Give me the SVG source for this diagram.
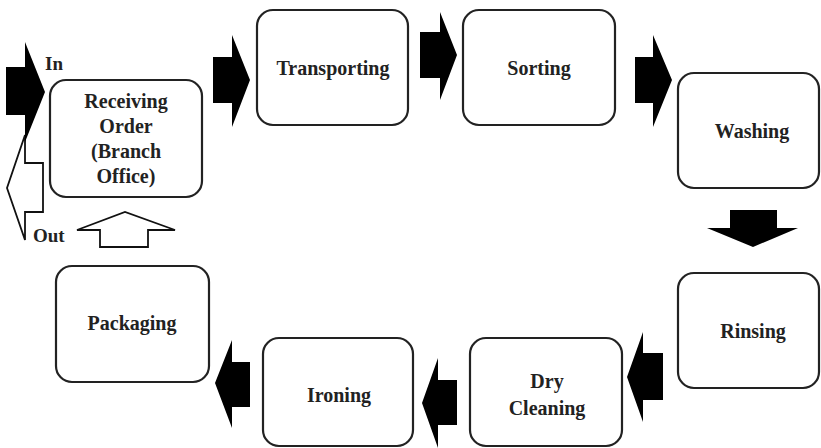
<svg xmlns="http://www.w3.org/2000/svg" width="821" height="448" viewBox="0 0 821 448">
<style>
.box{fill:#fff;stroke:#222;stroke-width:2.2}
.lbl{font-family:"Liberation Serif","Times New Roman",serif;font-weight:bold;font-size:20px;fill:#222;text-anchor:middle}
.side{font-family:"Liberation Serif","Times New Roman",serif;font-weight:bold;font-size:19px;fill:#222}
.blk{fill:#000}
.wht{fill:#fff;stroke:#111;stroke-width:1.8;stroke-linejoin:miter}
</style>
<rect width="821" height="448" fill="#fff"/>
<g id="connectors">
<polygon class="wht" points="43,163 25,163 25,135 7,188 25,240 25,212 43,212"/>
<polygon class="blk" points="6,67 25,67 25,42 45,92 25,142 25,115 6,115"/>
<polygon class="wht" points="100,247 100,230 77,230 125,212 175,230 148,230 148,247"/>
<polygon class="blk" points="213,57 232,57 232,35 250,80 232,127 232,103 213,103"/>
<polygon class="blk" points="420,32 440,32 440,12 457,55 440,100 440,78 420,78"/>
<polygon class="blk" points="635,57 653,57 653,35 672,80 653,127 653,103 635,103"/>
<polygon class="blk" points="730,210 777,210 777,228 798,228 753,247 707,228 730,228"/>
<polygon class="blk" points="663,353 643,353 643,332 627,377 643,422 643,400 663,400"/>
<polygon class="blk" points="457,380 438,380 438,358 422,403 438,448 438,425 457,425"/>
<polygon class="blk" points="250,362 232,362 232,340 215,383 232,428 232,407 250,407"/>
<text class="side" x="45" y="70">In</text>
<text class="side" x="33" y="242">Out</text>
</g>
<g id="receiving">
<rect class="box" x="50" y="80" width="152" height="117" rx="16"/>
<text class="lbl" x="126" y="108">Receiving</text>
<text class="lbl" x="126" y="133">Order</text>
<text class="lbl" x="126" y="158">(Branch</text>
<text class="lbl" x="126" y="183">Office)</text>
</g>
<g id="transporting">
<rect class="box" x="257" y="10" width="151" height="115" rx="16"/>
<text class="lbl" x="333" y="75">Transporting</text>
</g>
<g id="sorting">
<rect class="box" x="463" y="10" width="152" height="115" rx="16"/>
<text class="lbl" x="539" y="75">Sorting</text>
</g>
<g id="washing">
<rect class="box" x="678" y="73" width="141" height="115" rx="16"/>
<text class="lbl" x="752" y="138">Washing</text>
</g>
<g id="rinsing">
<rect class="box" x="678" y="273" width="141" height="115" rx="16"/>
<text class="lbl" x="753" y="338">Rinsing</text>
</g>
<g id="drycleaning">
<rect class="box" x="470" y="338" width="152" height="108" rx="16"/>
<text class="lbl" x="547" y="388">Dry</text>
<text class="lbl" x="547" y="415">Cleaning</text>
</g>
<g id="ironing">
<rect class="box" x="263" y="338" width="150" height="108" rx="16"/>
<text class="lbl" x="339" y="402">Ironing</text>
</g>
<g id="packaging">
<rect class="box" x="56" y="266" width="153" height="116" rx="16"/>
<text class="lbl" x="132" y="330">Packaging</text>
</g>
</svg>
